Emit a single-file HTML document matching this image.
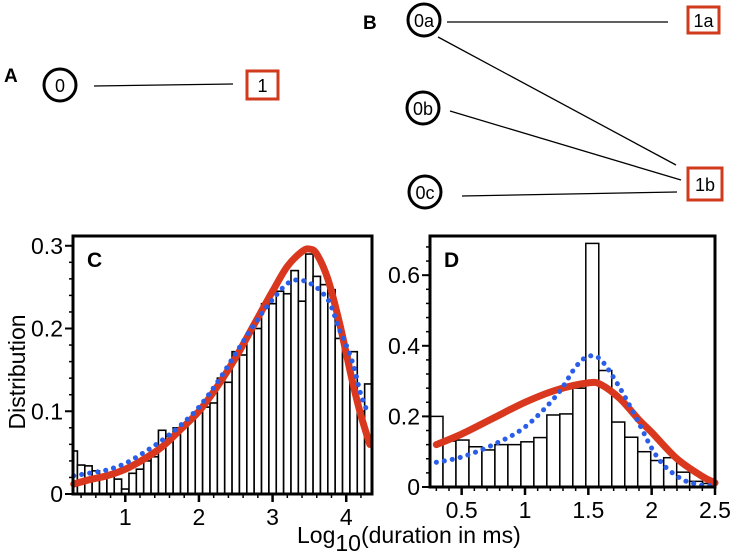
<!DOCTYPE html>
<html><head><meta charset="utf-8"><style>
body{margin:0;background:#fff;}
svg{display:block;font-family:"Liberation Sans",Arial,sans-serif;}
</style></head><body>
<svg id="fig" width="732" height="557" viewBox="0 0 732 557">
<g>
<text x="4" y="82" font-size="19" font-weight="bold">A</text>
<circle cx="60" cy="85" r="16" fill="none" stroke="#000" stroke-width="3"/>
<text x="60" y="92" font-size="18" text-anchor="middle">0</text>
<line x1="94" y1="86" x2="233" y2="84" stroke="#000" stroke-width="1.3"/>
<rect x="247" y="71" width="31" height="28" fill="none" stroke="#d23a1e" stroke-width="3"/>
<text x="262.5" y="92" font-size="18" text-anchor="middle">1</text>
</g>
<g>
<text x="363" y="29" font-size="19" font-weight="bold">B</text>
<circle cx="424" cy="20" r="16" fill="none" stroke="#000" stroke-width="3"/>
<text x="424" y="27" font-size="18" text-anchor="middle">0a</text>
<circle cx="423" cy="108" r="16" fill="none" stroke="#000" stroke-width="3"/>
<text x="423" y="115" font-size="18" text-anchor="middle">0b</text>
<circle cx="425" cy="192" r="16" fill="none" stroke="#000" stroke-width="3"/>
<text x="425" y="199" font-size="18" text-anchor="middle">0c</text>
<line x1="447" y1="22" x2="668" y2="22" stroke="#000" stroke-width="1.3"/>
<line x1="438" y1="37" x2="676" y2="165" stroke="#000" stroke-width="1.3"/>
<line x1="450" y1="111" x2="681" y2="180" stroke="#000" stroke-width="1.3"/>
<line x1="462" y1="196" x2="677" y2="192" stroke="#000" stroke-width="1.3"/>
<rect x="688" y="7" width="31" height="26" fill="none" stroke="#d23a1e" stroke-width="3"/>
<text x="703.5" y="27" font-size="18" text-anchor="middle">1a</text>
<rect x="688" y="168" width="34" height="32" fill="none" stroke="#d23a1e" stroke-width="3"/>
<text x="705" y="191" font-size="18" text-anchor="middle">1b</text>
</g>
<g id="pc"></g>
<g id="pd"></g>
<text transform="translate(25,372) rotate(-90)" font-size="23" text-anchor="middle">Distribution</text>
<text x="297" y="543" font-size="23">Log<tspan dy="8">10</tspan><tspan dy="-8">(duration in ms)</tspan></text>
</svg>
<script>
// Panel C data
const cBinStart = 0.25, cBinWidth = 0.1;
const cBars = [0.052,0.035,0.034,0.028,0.023,0.021,0.018,0.006,0.025,0.03,0.04,0.045,0.077,0.07,0.08,0.085,0.09,0.1,0.105,0.11,0.14,0.135,0.172,0.168,0.195,0.2,0.23,0.23,0.245,0.242,0.27,0.233,0.29,0.263,0.253,0.247,0.188,0.17,0.172,0.1,0.133];
const cRedX = [0.3,0.5,0.75,1.0,1.25,1.5,1.75,2.0,2.25,2.5,2.75,3.0,3.2,3.4,3.5,3.6,3.75,3.9,4.0,4.1,4.2,4.32];
const cRedY = [0.012,0.017,0.022,0.03,0.042,0.057,0.078,0.1,0.13,0.165,0.205,0.245,0.275,0.293,0.296,0.29,0.26,0.21,0.17,0.13,0.095,0.06];
const cBlueX = [0.3,0.5,0.75,1.0,1.25,1.5,1.75,2.0,2.25,2.5,2.75,3.0,3.25,3.5,3.75,3.9,4.0,4.1,4.2,4.3];
const cBlueY = [0.022,0.025,0.029,0.037,0.05,0.065,0.083,0.105,0.135,0.17,0.205,0.235,0.257,0.255,0.235,0.2,0.18,0.155,0.12,0.097];
const cXTicks = [1,2,3,4];
const cYTicks = [0,0.1,0.2,0.3];
// Panel D data
const dBinStart = 0.25, dBinWidth = 0.1025;
const dBars = [0.2,0.13,0.133,0.114,0.105,0.12,0.12,0.128,0.14,0.204,0.207,0.28,0.69,0.33,0.184,0.141,0.1,0.075,0.083,0.042,0.016,0.01];
const dRedX = [0.3,0.5,0.75,1.0,1.25,1.5,1.6,1.75,1.9,2.0,2.2,2.4,2.5];
const dRedY = [0.12,0.15,0.195,0.24,0.275,0.295,0.29,0.25,0.19,0.155,0.08,0.03,0.012];
const dBlueX = [0.3,0.5,0.75,1.0,1.25,1.4,1.5,1.6,1.75,1.9,2.0,2.1,2.25,2.4,2.5];
const dBlueY = [0.07,0.085,0.12,0.17,0.26,0.34,0.37,0.36,0.28,0.18,0.11,0.06,0.02,0.005,0.005];
const dXTicks = [0.5,1,1.5,2,2.5];
const dXTickLabels = ["0.5","1","1.5","2","2.5"];
const dYTicks = [0,0.2,0.4,0.6];

const NS="http://www.w3.org/2000/svg";
function mk(parent,tag,attrs){const e=document.createElementNS(NS,tag);for(const k in attrs)e.setAttribute(k,attrs[k]);parent.appendChild(e);return e;}
function smooth(pts){let d="M"+pts[0][0]+","+pts[0][1];for(let i=0;i<pts.length-1;i++){const p0=pts[Math.max(0,i-1)],p1=pts[i],p2=pts[i+1],p3=pts[Math.min(pts.length-1,i+2)];
d+=" C"+(p1[0]+(p2[0]-p0[0])/6)+","+(p1[1]+(p2[1]-p0[1])/6)+" "+(p2[0]-(p3[0]-p1[0])/6)+","+(p2[1]-(p3[1]-p1[1])/6)+" "+p2[0]+","+p2[1];}return d;}

function panel(g,o){
  const X=v=>o.x0+(v-o.xmin)/(o.xmax-o.xmin)*(o.x1-o.x0);
  const Y=v=>o.y1-(v-o.ymin)/(o.ymax-o.ymin)*(o.y1-o.y0);
  const clip=mk(g,"clipPath",{id:o.id+"clip"});mk(clip,"rect",{x:o.x0,y:o.y0,width:o.x1-o.x0,height:o.y1-o.y0});
  const bars=mk(g,"g",{"clip-path":"url(#"+o.id+"clip)"});
  o.bars.forEach((v,i)=>{const a=o.binStart+i*o.binW;
    const r=mk(bars,"rect",{x:X(a),y:Y(v),width:X(a+o.binW)-X(a),height:Y(0)-Y(v),fill:"#fff",stroke:"#000","stroke-width":o.barStroke});
    
    
  });
  const red=mk(g,"path",{d:smooth(o.redX.map((x,i)=>[X(x),Y(o.redY[i])])),fill:"none",stroke:"#d9381e","stroke-width":7,"stroke-linecap":"round"});
  
  
  const blue=mk(g,"path",{d:smooth(o.blueX.map((x,i)=>[X(x),Y(o.blueY[i])])),fill:"none",stroke:"#2a5ee8","stroke-width":5,"stroke-dasharray":"0.1 8","stroke-linecap":"round"});
  
  
  const fr=mk(g,"rect",{x:o.x0,y:o.y0,width:o.x1-o.x0,height:o.y1-o.y0,fill:"none",stroke:"#000","stroke-width":3});
  
  
  for(let v=o.ymin;v<=o.ymax+1e-9;v+=o.yminor){const y=Y(v);mk(g,"line",{x1:o.x0-4,x2:o.x0,y1:y,y2:y,stroke:"#000","stroke-width":1.5});}
  o.yTicks.forEach(v=>{const y=Y(v);mk(g,"line",{x1:o.x0-8,x2:o.x0,y1:y,y2:y,stroke:"#000","stroke-width":2});
    const t=mk(g,"text",{x:o.x0-10,y:y+8,"font-size":23,"text-anchor":"end"});t.textContent=String(v);
    
    });
  for(let v=Math.ceil(o.xmin/o.xminor)*o.xminor;v<=o.xmax+1e-9;v+=o.xminor){const x=X(v);mk(g,"line",{x1:x,x2:x,y1:o.y1,y2:o.y1+4,stroke:"#000","stroke-width":1.5});}
  o.xTicks.forEach((v,i)=>{const x=X(v);mk(g,"line",{x1:x,x2:x,y1:o.y1,y2:o.y1+8,stroke:"#000","stroke-width":2.5});
    const t=mk(g,"text",{x:x,y:o.y1+31,"font-size":23,"text-anchor":"middle"});t.textContent=o.xLabels?o.xLabels[i]:String(v);
    
    });
  const l=mk(g,"text",{x:o.x0+14,y:o.y0+31,"font-size":21,"font-weight":"bold"});l.textContent=o.label;
  
  
}
panel(document.getElementById("pc"),{id:"c",x0:73,x1:372,y0:236,y1:494,xmin:0.29,xmax:4.35,ymin:0,ymax:0.3118,barStroke:1.6,
  bars:cBars,binStart:cBinStart,binW:cBinWidth,redX:cRedX,redY:cRedY,blueX:cBlueX,blueY:cBlueY,
  xTicks:cXTicks,yTicks:cYTicks,yminor:0.02,xminor:0.2,label:"C"});
panel(document.getElementById("pd"),{id:"d",x0:430,x1:715,y0:236,y1:487,xmin:0.25,xmax:2.5,ymin:0,ymax:0.711,barStroke:1.5,
  bars:dBars,binStart:dBinStart,binW:dBinWidth,redX:dRedX,redY:dRedY,blueX:dBlueX,blueY:dBlueY,
  xTicks:dXTicks,xLabels:dXTickLabels,yTicks:dYTicks,yminor:0.04,xminor:0.1,label:"D"});
</script>
</body></html>
